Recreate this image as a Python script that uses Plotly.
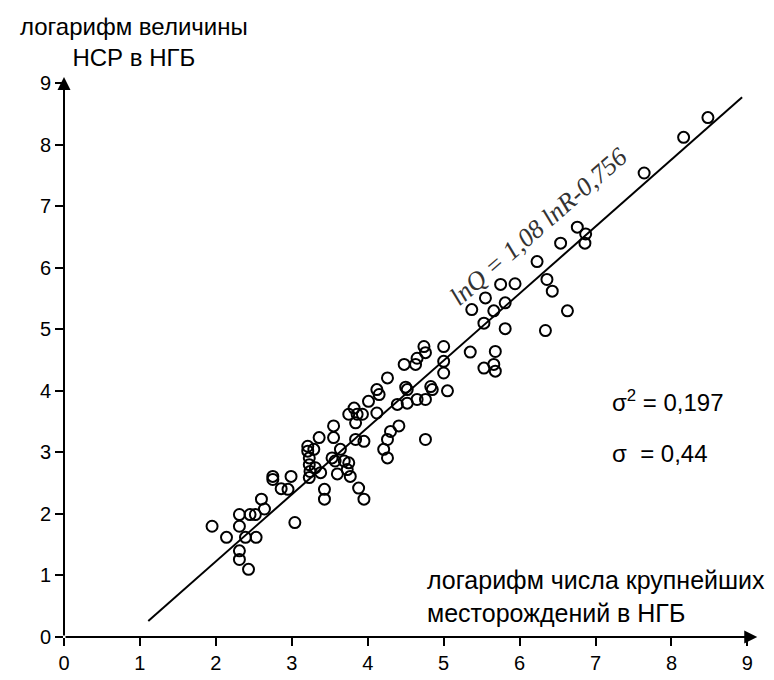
import plotly.graph_objects as go

# ln R (x) and ln Q (y)
ln_r = [1.95, 2.14, 2.31, 2.31, 2.31, 2.31, 2.43, 2.39, 2.45, 2.52, 2.53, 2.60, 2.64,
        2.75, 2.75, 2.99, 2.86, 2.95, 3.04, 3.43, 3.43, 3.60,
        3.21, 3.21, 3.23, 3.23, 3.24, 3.23, 3.29, 3.36, 3.31, 3.38, 3.55, 3.55, 3.53,
        3.57, 3.64, 3.69, 3.75, 3.77, 3.73, 3.84, 3.95, 3.88, 3.75, 3.82, 3.86, 3.93,
        3.84, 4.01, 4.12, 4.15, 4.12, 4.26, 4.39, 4.52, 4.52, 4.48, 4.30, 4.26, 4.21,
        4.26, 4.41, 3.95, 4.63, 4.65, 4.74, 4.76, 5.00, 5.00, 5.00, 5.35, 5.68, 5.53,
        5.66, 5.68, 5.81, 5.53, 4.50, 4.83, 4.85, 5.05, 4.65, 4.76, 4.76,
        6.23, 6.54, 6.36, 6.43, 5.75, 5.94, 5.55, 5.81, 5.66, 5.37, 6.34, 6.63,
        6.76, 6.87, 6.86, 7.64, 8.16, 8.48]
ln_q = [1.80, 1.62, 1.99, 1.80, 1.40, 1.26, 1.10, 1.62, 1.99, 1.99, 1.62, 2.24, 2.08,
        2.61, 2.56, 2.61, 2.41, 2.40, 1.86, 2.40, 2.24, 2.65,
        3.10, 3.02, 2.91, 2.80, 2.69, 2.59, 3.05, 3.24, 2.75, 2.67, 3.43, 3.24, 2.91,
        2.86, 3.05, 2.86, 2.83, 2.61, 2.72, 3.21, 3.18, 2.42, 3.62, 3.72, 3.62, 3.62,
        3.48, 3.83, 4.02, 3.94, 3.64, 4.21, 3.78, 3.80, 4.02, 4.43, 3.34, 3.21, 3.05,
        2.91, 3.43, 2.24, 4.43, 4.53, 4.72, 4.62, 4.72, 4.48, 4.29, 4.63, 4.64, 4.37,
        4.43, 4.32, 5.01, 5.10, 4.06, 4.07, 4.02, 4.00, 3.86, 3.86, 3.21,
        6.10, 6.40, 5.81, 5.62, 5.73, 5.74, 5.51, 5.43, 5.30, 5.32, 4.98, 5.30,
        6.66, 6.55, 6.40, 7.54, 8.12, 8.44]

# regression line as drawn
line_x = [1.11, 8.93]
line_y = [0.26, 8.77]

tick_vals = [0, 1, 2, 3, 4, 5, 6, 7, 8, 9]
tick_text = ["0", "1", "2", "3", "4", "5", "6", "7", "8", "9"]

fig = go.Figure()
fig.add_trace(go.Scatter(x=line_x, y=line_y, mode="lines",
                         line=dict(color="black", width=2), hoverinfo="skip"))
fig.add_trace(go.Scatter(x=ln_r, y=ln_q, mode="markers",
                         marker=dict(symbol="circle-open", size=11, color="black",
                                     line=dict(width=2, color="black"))))

font = "Liberation Sans, Arial, sans-serif"
axis_common = dict(showgrid=False, zeroline=False, showline=False, automargin=False,
                   ticks="outside", ticklen=8, tickwidth=1.5, tickcolor="black",
                   tickvals=tick_vals, ticktext=tick_text,
                   tickfont=dict(family=font, size=20, color="black"))
fig.update_xaxes(range=[0, 9.1], **axis_common)
fig.update_yaxes(range=[0, 9.1], **axis_common)

# axes with arrows
fig.add_annotation(x=9.13, y=0, ax=0, ay=0, xref="x", yref="y", axref="x", ayref="y",
                   showarrow=True, arrowhead=2, arrowsize=1.3, arrowwidth=2,
                   arrowcolor="black", text="")
fig.add_annotation(x=0, y=9.1, ax=0, ay=0, xref="x", yref="y", axref="x", ayref="y",
                   showarrow=True, arrowhead=2, arrowsize=1.3, arrowwidth=2,
                   arrowcolor="black", text="")

fig.add_annotation(x=-0.0666, y=1.063, xref="paper", yref="paper", xanchor="left",
                   yanchor="middle", showarrow=False, align="center",
                   text="логарифм величины<br>НСР в НГБ",
                   font=dict(family=font, size=24, color="black"))
fig.add_annotation(x=0.523, y=0.0715, xref="paper", yref="paper", xanchor="left",
                   yanchor="middle", showarrow=False, align="left",
                   text="логарифм числа крупнейших<br>месторождений в НГБ",
                   font=dict(family=font, size=25, color="black"))
fig.add_annotation(x=0.687, y=0.733, xref="paper", yref="paper", showarrow=False,
                   xanchor="center", yanchor="middle",
                   text="<i>lnQ = 1,08 lnR-0,756</i>", textangle=-41,
                   font=dict(family="Liberation Serif, Times New Roman, serif", size=26,
                             color="#333333"))
fig.add_annotation(x=0.79, y=0.421, xref="paper", yref="paper", xanchor="left",
                   yanchor="middle", showarrow=False, text="σ<sup>2</sup> = 0,197",
                   font=dict(family=font, size=24, color="black"))
fig.add_annotation(x=0.79, y=0.328, xref="paper", yref="paper", xanchor="left",
                   yanchor="middle", showarrow=False, text="σ  = 0,44",
                   font=dict(family=font, size=24, color="black"))

fig.update_layout(width=774, height=680, showlegend=False,
                  margin=dict(l=56, r=27, t=69, b=51),
                  plot_bgcolor="white", paper_bgcolor="white")
fig.write_html("out.html")
